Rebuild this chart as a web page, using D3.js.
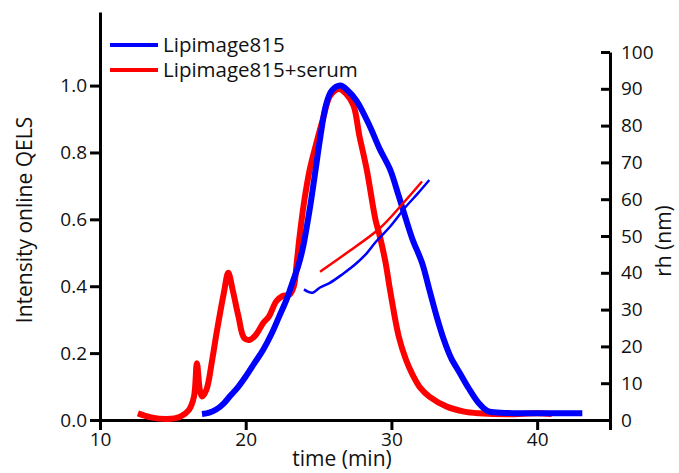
<!DOCTYPE html>
<html>
<head>
<meta charset="utf-8">
<script src="https://cdn.jsdelivr.net/npm/d3@7"></script>
<style>
  html, body { margin: 0; padding: 0; background: #fff; }
  svg { display: block; }
  text { font-family: "Open Sans", "DejaVu Sans", sans-serif; fill: #111; }
</style>
</head>
<body>
<svg id="chart" width="679" height="473"></svg>
<script>
// ---- data ----
const seriesNames = ["Lipimage815", "Lipimage815+serum"];
const seriesColors = ["#0000ff", "#ff0000"];

// QELS intensity, Lipimage815 (time min, intensity)
const blueTime = [17.0, 17.5, 18.0, 18.5, 18.9, 19.5, 20.0, 20.6, 21.2, 21.8, 22.3, 22.8, 23.2, 23.6, 23.9, 24.2, 24.5, 24.8, 25.1, 25.5, 25.9, 26.5, 27.0, 27.6, 28.5, 29.2, 29.9, 30.5, 31.0, 31.45, 32.1, 32.6, 33.1, 33.6, 34.1, 34.7, 35.3, 36.0, 36.6, 37.5, 39.0, 41.0, 43.1];
const blueQELS = [0.018, 0.022, 0.032, 0.05, 0.07, 0.10, 0.13, 0.17, 0.21, 0.26, 0.31, 0.36, 0.41, 0.46, 0.51, 0.58, 0.66, 0.75, 0.84, 0.94, 0.985, 1.0, 0.985, 0.955, 0.88, 0.81, 0.75, 0.67, 0.60, 0.54, 0.47, 0.39, 0.31, 0.24, 0.185, 0.14, 0.095, 0.05, 0.027, 0.022, 0.02, 0.02, 0.02];

// QELS intensity, Lipimage815+serum
const redTime = [12.6, 13.5, 14.6, 15.5, 16.1, 16.45, 16.65, 16.85, 17.0, 17.3, 17.7, 18.0, 18.5, 18.8, 19.1, 19.5, 19.9, 20.3, 20.7, 21.2, 21.6, 22.1, 22.5, 23.0, 23.3, 23.5, 23.7, 24.0, 24.4, 24.8, 25.3, 25.8, 26.4, 26.9, 27.4, 27.8, 28.3, 28.9, 29.2, 29.6, 29.9, 30.5, 31.0, 31.4, 32.0, 32.6, 33.8, 35.0, 36.0, 38.0, 40.0, 41.0];
const redQELS = [0.02, 0.008, 0.003, 0.01, 0.03, 0.07, 0.17, 0.09, 0.07, 0.09, 0.18, 0.26, 0.38, 0.44, 0.39, 0.31, 0.245, 0.24, 0.255, 0.29, 0.31, 0.355, 0.37, 0.375, 0.40, 0.47, 0.55, 0.65, 0.75, 0.82, 0.90, 0.97, 0.99, 0.975, 0.94, 0.85, 0.75, 0.60, 0.55, 0.47, 0.39, 0.25, 0.18, 0.14, 0.095, 0.07, 0.04, 0.025, 0.02, 0.017, 0.02, 0.018];

// hydrodynamic radius rh (nm), right axis
const blueRhTime = [24.0, 24.3, 24.6, 25.1, 25.75, 26.6, 27.6, 28.3, 28.95, 29.9, 31.0, 31.8, 32.6];
const blueRh = [35.5, 34.8, 34.6, 36.0, 37.2, 39.5, 42.6, 45.3, 48.5, 52.5, 58.0, 61.5, 65.2];
const redRhTime = [25.1, 26.9, 29.2, 30.8, 32.1];
const redRh = [40.3, 45.3, 52.1, 58.9, 64.8];

const xTicks = [10, 20, 30, 40];
const yTicks = [0, 0.2, 0.4, 0.6, 0.8, 1.0];
const rTicks = [0, 10, 20, 30, 40, 50, 60, 70, 80, 90, 100];

// ---- drawing ----
const svg = d3.select("#chart");
const x = d3.scaleLinear().domain([10, 45]).range([100, 610]);
const y = d3.scaleLinear().domain([0, 1.22]).range([420, 12]);
const yr = d3.scaleLinear().domain([0, 100]).range([420, 52]);

const zip = (a, b) => a.map((v, i) => [v, b[i]]);
const lineL = d3.line().x(d => x(d[0])).y(d => y(d[1])).curve(d3.curveCatmullRom.alpha(0.5));
const lineR = d3.line().x(d => x(d[0])).y(d => yr(d[1])).curve(d3.curveCatmullRom.alpha(0.5));

// axes
const axisStyle = g => {
  g.selectAll("path, line").attr("stroke", "#000").attr("stroke-width", 3);
  g.selectAll("text").attr("font-size", 19).attr("font-family", '"Open Sans", sans-serif').attr("fill", "#111");
};

svg.append("g").attr("transform", "translate(0,420)")
  .call(d3.axisBottom(x).tickValues(xTicks).tickFormat(d3.format("d")).tickSize(10).tickPadding(3))
  .call(axisStyle);

svg.append("g").attr("transform", "translate(100,0)")
  .call(d3.axisLeft(y).tickValues(yTicks).tickFormat(d3.format(".1f")).tickSizeInner(10).tickSizeOuter(0).tickPadding(3))
  .call(axisStyle);

svg.append("g").attr("transform", "translate(610,0)")
  .call(d3.axisRight(yr).tickValues(rTicks).tickFormat(d3.format("d")).tickSizeInner(-9).tickSizeOuter(0).tickPadding(11))
  .call(axisStyle);

// curves
svg.append("path").datum(zip(redTime, redQELS)).attr("d", lineL)
  .attr("fill", "none").attr("stroke", seriesColors[1]).attr("stroke-width", 6)
  .attr("stroke-linejoin", "round").attr("stroke-linecap", "butt");
svg.append("path").datum(zip(blueTime, blueQELS)).attr("d", lineL)
  .attr("fill", "none").attr("stroke", seriesColors[0]).attr("stroke-width", 6)
  .attr("stroke-linejoin", "round").attr("stroke-linecap", "butt");
svg.append("path").datum(zip(redRhTime, redRh)).attr("d", lineR)
  .attr("fill", "none").attr("stroke", seriesColors[1]).attr("stroke-width", 2.5);
svg.append("path").datum(zip(blueRhTime, blueRh)).attr("d", lineR)
  .attr("fill", "none").attr("stroke", seriesColors[0]).attr("stroke-width", 2.5);

// legend
const leg = svg.append("g");
seriesNames.forEach((name, i) => {
  const yy = 45 + i * 25;
  leg.append("line").attr("x1", 110).attr("x2", 158).attr("y1", yy).attr("y2", yy)
    .attr("stroke", seriesColors[i]).attr("stroke-width", 4);
  leg.append("text").attr("x", 163).attr("y", yy + 7).attr("font-size", 20.5).text(name);
});

// axis titles
svg.append("text").attr("transform", "translate(32,220) rotate(-90)")
  .attr("text-anchor", "middle").attr("font-size", 21).text("Intensity online QELS");
svg.append("text").attr("transform", "translate(671,241) rotate(-90)")
  .attr("text-anchor", "middle").attr("font-size", 21).text("rh (nm)");
svg.append("text").attr("x", 342).attr("y", 466)
  .attr("text-anchor", "middle").attr("font-size", 21).text("time (min)");
</script>
</body>
</html>
